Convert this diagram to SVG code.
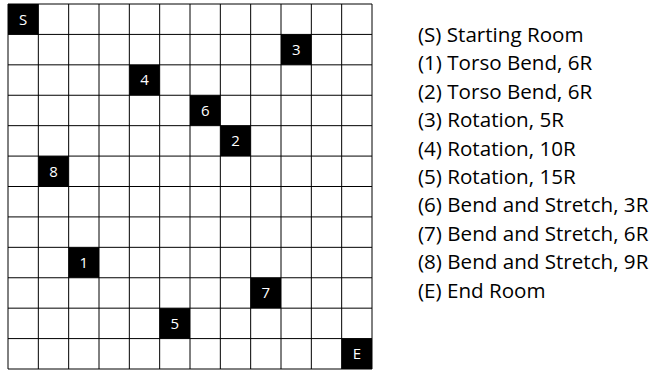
<svg xmlns="http://www.w3.org/2000/svg" width="652" height="371" viewBox="0 0 652 371">
<style>
.grid line{stroke:#000;stroke-width:1}
.cell rect{fill:#000}
.cell text{fill:#fff;font-family:"Open Sans","Liberation Sans",sans-serif;font-size:15px;text-anchor:middle}
.legend text{fill:#000;font-family:"Open Sans","Liberation Sans",sans-serif;font-size:20.6px}
</style>
<rect width="652" height="371" fill="#fff"/>
<g id="grid" class="grid">
<line x1="8" y1="4" x2="8" y2="369"/>
<line x1="38.33" y1="4" x2="38.33" y2="369"/>
<line x1="68.67" y1="4" x2="68.67" y2="369"/>
<line x1="99" y1="4" x2="99" y2="369"/>
<line x1="129.33" y1="4" x2="129.33" y2="369"/>
<line x1="159.67" y1="4" x2="159.67" y2="369"/>
<line x1="190" y1="4" x2="190" y2="369"/>
<line x1="220.33" y1="4" x2="220.33" y2="369"/>
<line x1="250.67" y1="4" x2="250.67" y2="369"/>
<line x1="281" y1="4" x2="281" y2="369"/>
<line x1="311.33" y1="4" x2="311.33" y2="369"/>
<line x1="341.67" y1="4" x2="341.67" y2="369"/>
<line x1="372" y1="4" x2="372" y2="369"/>
<line x1="8" y1="4" x2="372" y2="4"/>
<line x1="8" y1="34.42" x2="372" y2="34.42"/>
<line x1="8" y1="64.83" x2="372" y2="64.83"/>
<line x1="8" y1="95.25" x2="372" y2="95.25"/>
<line x1="8" y1="125.67" x2="372" y2="125.67"/>
<line x1="8" y1="156.08" x2="372" y2="156.08"/>
<line x1="8" y1="186.5" x2="372" y2="186.5"/>
<line x1="8" y1="216.92" x2="372" y2="216.92"/>
<line x1="8" y1="247.33" x2="372" y2="247.33"/>
<line x1="8" y1="277.75" x2="372" y2="277.75"/>
<line x1="8" y1="308.17" x2="372" y2="308.17"/>
<line x1="8" y1="338.58" x2="372" y2="338.58"/>
<line x1="8" y1="369" x2="372" y2="369"/>
</g>
<g id="room-S" class="cell"><rect x="8" y="4" width="30.33" height="30.42"/><text x="23.2" y="24.6">S</text></g>
<g id="room-3" class="cell"><rect x="281" y="34.42" width="30.33" height="30.42"/><text x="296.2" y="55">3</text></g>
<g id="room-4" class="cell"><rect x="129.33" y="64.83" width="30.33" height="30.42"/><text x="144.5" y="85.4">4</text></g>
<g id="room-6" class="cell"><rect x="190" y="95.25" width="30.33" height="30.42"/><text x="205.2" y="115.9">6</text></g>
<g id="room-2" class="cell"><rect x="220.33" y="125.67" width="30.33" height="30.42"/><text x="235.5" y="146.3">2</text></g>
<g id="room-8" class="cell"><rect x="38.33" y="156.08" width="30.33" height="30.42"/><text x="53.5" y="176.7">8</text></g>
<g id="room-1" class="cell"><rect x="68.67" y="247.33" width="30.33" height="30.42"/><text x="83.8" y="267.9">1</text></g>
<g id="room-7" class="cell"><rect x="250.67" y="277.75" width="30.33" height="30.42"/><text x="265.8" y="298.4">7</text></g>
<g id="room-5" class="cell"><rect x="159.67" y="308.17" width="30.33" height="30.42"/><text x="174.8" y="328.8">5</text></g>
<g id="room-E" class="cell"><rect x="341.67" y="338.58" width="30.33" height="30.42"/><text x="356.8" y="359.2">E</text></g>
<g id="legend" class="legend">
<text x="418" y="42">(S) Starting Room</text>
<text x="418" y="70.4">(1) Torso Bend, 6R</text>
<text x="418" y="98.8">(2) Torso Bend, 6R</text>
<text x="418" y="127.2">(3) Rotation, 5R</text>
<text x="418" y="155.6">(4) Rotation, 10R</text>
<text x="418" y="184">(5) Rotation, 15R</text>
<text x="418" y="212.4">(6) Bend and Stretch, 3R</text>
<text x="418" y="240.8">(7) Bend and Stretch, 6R</text>
<text x="418" y="269.2">(8) Bend and Stretch, 9R</text>
<text x="418" y="297.6">(E) End Room</text>
</g>
</svg>
